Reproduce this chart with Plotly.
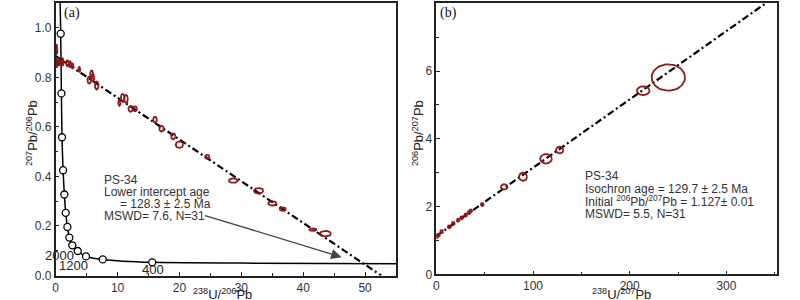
import numpy as np
import plotly.graph_objects as go

# ---------------- data: panel (a) Tera-Wasserburg ----------------
conc_x = [0.72, 0.81, 0.92, 1.02, 1.19, 1.40, 1.62, 1.89, 2.21, 2.69, 3.56, 4.90, 7.60, 15.6, 30.0, 55.0]
conc_y = [1.10, 0.976, 0.735, 0.558, 0.425, 0.327, 0.253, 0.196, 0.153, 0.122, 0.099, 0.077, 0.065, 0.053, 0.050, 0.0475]
conc_mark_x = [0.81, 0.92, 1.02, 1.19, 1.40, 1.62, 1.89, 2.21, 2.69, 3.56, 4.90, 7.60, 15.6]
conc_mark_y = [0.976, 0.735, 0.558, 0.425, 0.327, 0.253, 0.196, 0.153, 0.122, 0.099, 0.077, 0.065, 0.053]
age_labels = ["2000", "1200", "400"]
age_lab_x = [0.65, 2.9, 15.8]
age_lab_y = [0.081, 0.041, 0.023]

a_x = [0.16, 0.16, 0.53, 1.13, 1.88, 2.31, 2.69, 3.82, 5.43, 5.82, 5.98, 6.63, 10.29, 10.83,
       11.36, 12.1, 12.8, 16.05, 17.1, 19.0, 20.0, 24.5, 28.7, 32.8, 35.0, 36.7, 41.6, 43.6]
a_y = [0.913, 0.859, 0.862, 0.862, 0.857, 0.853, 0.846, 0.832, 0.789, 0.812, 0.799, 0.767, 0.697, 0.717,
       0.713, 0.673, 0.673, 0.629, 0.593, 0.562, 0.528, 0.479, 0.383, 0.342, 0.291, 0.268, 0.185, 0.169]
a_rx = [0.12, 0.12, 0.15, 0.15, 0.2, 0.2, 0.2, 0.15, 0.3, 0.25, 0.25, 0.3, 0.18, 0.3,
        0.3, 0.35, 0.35, 0.3, 0.35, 0.35, 0.6, 0.35, 0.7, 0.75, 0.65, 0.5, 0.6, 0.9]
a_ry = [0.018, 0.02, 0.014, 0.014, 0.012, 0.012, 0.01, 0.01, 0.014, 0.016, 0.014, 0.016, 0.012, 0.016,
        0.016, 0.012, 0.01, 0.012, 0.012, 0.012, 0.013, 0.008, 0.009, 0.011, 0.009, 0.007, 0.005, 0.011]
disc_x = [0.0, 52.6]
disc_y = [0.886, 0.0]

# ---------------- data: panel (b) isochron ----------------
b_x = [0.4, 2.1, 5.6, 13.4, 17.6, 22.8, 26.3, 30.4, 33.8, 35.5, 47.6, 70.3, 89.7, 113.4, 127.6, 214.0, 239.9]
b_y = [1.11, 1.16, 1.26, 1.40, 1.50, 1.60, 1.67, 1.75, 1.82, 1.87, 2.06, 2.58, 2.88, 3.41, 3.67, 5.42, 5.81]
b_rx = [1.5, 1.5, 1.5, 1.5, 1.5, 1.5, 1.5, 1.5, 1.5, 1.5, 1.5, 3.4, 4.1, 6.0, 3.8, 6.5, 17.2]
b_ry = [0.045, 0.045, 0.045, 0.045, 0.045, 0.045, 0.045, 0.045, 0.045, 0.045, 0.045, 0.08, 0.12, 0.14, 0.10, 0.13, 0.39]
iso_x = [0.0, 350.0]
iso_y = [1.127, 1.127 + 0.02018 * 350.0]

text_a = ["PS-34", "Lower intercept age", "= 128.3 ± 2.5 Ma", "MSWD= 7.6, N=31"]
text_a_x = [7.5, 7.5, 10.0, 7.5]
text_a_y = [0.386, 0.337, 0.288, 0.240]
text_b = ["PS-34", "Isochron age = 129.7 ± 2.5 Ma",
          "Initial <sup>206</sup>Pb/<sup>207</sup>Pb = 1.127± 0.01", "MSWD= 5.5, N=31"]
text_b_x = [151.7] * 4
text_b_y = [2.90, 2.53, 2.16, 1.78]

RED = "#8B1A1A"
FONT = "Liberation Sans, Arial, sans-serif"
W, H = 800, 300


def ellipses(xs, ys, rxs, rys, n=48):
    t = np.linspace(0, 2 * np.pi, n)
    ex, ey = [], []
    for cx, cy, rx, ry in zip(xs, ys, rxs, rys):
        ex += list(cx + rx * np.cos(t)) + [None]
        ey += list(cy + ry * np.sin(t)) + [None]
    return ex, ey


def px(x):
    return x / W


def py(y):
    return 1 - y / H


fig = go.Figure()

# panel (a)
fig.add_trace(go.Scatter(x=conc_x, y=conc_y, mode="lines",
                         line=dict(color="black", width=1.5, shape="spline", smoothing=0.6),
                         xaxis="x", yaxis="y", hoverinfo="skip"))
fig.add_trace(go.Scatter(x=conc_mark_x, y=conc_mark_y, mode="markers",
                         marker=dict(symbol="circle", size=7, color="white", line=dict(color="black", width=1.3)),
                         xaxis="x", yaxis="y"))
fig.add_trace(go.Scatter(x=disc_x, y=disc_y, mode="lines",
                         line=dict(color="black", width=2.2, dash="7px,3px,2px,3px"),
                         xaxis="x", yaxis="y"))
ex, ey = ellipses(a_x, a_y, a_rx, a_ry)
fig.add_trace(go.Scatter(x=ex, y=ey, mode="lines", line=dict(color=RED, width=1.8), xaxis="x", yaxis="y"))

# panel (b)
fig.add_trace(go.Scatter(x=iso_x, y=iso_y, mode="lines",
                         line=dict(color="black", width=2.2, dash="7px,3px,2px,3px"),
                         xaxis="x2", yaxis="y2"))
ex, ey = ellipses(b_x, b_y, b_rx, b_ry)
fig.add_trace(go.Scatter(x=ex, y=ey, mode="lines", line=dict(color=RED, width=1.8), xaxis="x2", yaxis="y2"))

axis_common = dict(showline=True, mirror=True, linecolor="#222", linewidth=1.5, ticks="inside",
                   ticklen=4, tickcolor="#222", showgrid=False, zeroline=False, automargin=False,
                   tickfont=dict(family=FONT, size=12, color="#333"))

fig.update_layout(
    width=W, height=H, margin=dict(l=0, r=0, t=0, b=0, pad=0, autoexpand=False), showlegend=False,
    plot_bgcolor="white", paper_bgcolor="white",
    xaxis=dict(domain=[px(55.7), px(396)], range=[0, 55], dtick=10, anchor="y",
               minor=dict(ticks="inside", dtick=5, ticklen=3, tickcolor="#222"), **axis_common),
    yaxis=dict(domain=[py(275.5), py(3)], range=[0, 1.1], dtick=0.2, tickformat=".1f", anchor="x",
               minor=dict(ticks="inside", dtick=0.1, ticklen=3, tickcolor="#222"), **axis_common),
    xaxis2=dict(domain=[px(436.3), px(776.7)], range=[0, 352], dtick=100, anchor="y2",
                minor=dict(ticks="inside", dtick=50, ticklen=3, tickcolor="#222"), **axis_common),
    yaxis2=dict(domain=[py(274.3), py(3.3)], range=[0, 8], dtick=2, anchor="x2",
                minor=dict(ticks="inside", dtick=1, ticklen=3, tickcolor="#222"), **axis_common),
)

ann = []
serif = dict(family="Liberation Serif, Times New Roman, serif", size=14, color="#111")
ann.append(dict(text="(a)", x=px(71.5), y=py(13), xref="paper", yref="paper", xanchor="center",
                yanchor="middle", showarrow=False, font=serif))
ann.append(dict(text="(b)", x=px(448.7), y=py(13), xref="paper", yref="paper", xanchor="center",
                yanchor="middle", showarrow=False, font=serif))
title_font = dict(family=FONT, size=13, color="#222")
ann.append(dict(text="<sup>238</sup>U/<sup>206</sup>Pb", x=px(222), y=py(294), xref="paper", yref="paper",
                xanchor="center", yanchor="middle", showarrow=False, font=title_font))
ann.append(dict(text="<sup>238</sup>U/<sup>207</sup>Pb", x=px(621.7), y=py(294), xref="paper", yref="paper",
                xanchor="center", yanchor="middle", showarrow=False, font=title_font))
ann.append(dict(text="<sup>207</sup>Pb/<sup>206</sup>Pb", x=px(32), y=py(133), xref="paper", yref="paper",
                xanchor="center", yanchor="middle", textangle=-90, showarrow=False, font=title_font))
ann.append(dict(text="<sup>206</sup>Pb/<sup>207</sup>Pb", x=px(418), y=py(133), xref="paper", yref="paper",
                xanchor="center", yanchor="middle", textangle=-90, showarrow=False, font=title_font))
for t, x, y in zip(age_labels, age_lab_x, age_lab_y):
    ann.append(dict(text=t, x=x, y=y, xref="x", yref="y", xanchor="center", yanchor="middle",
                    showarrow=False, font=dict(family=FONT, size=13, color="#222")))
for t, x, y in zip(text_a, text_a_x, text_a_y):
    ann.append(dict(text=t, x=x, y=y, xref="x", yref="y", xanchor="left", yanchor="middle", showarrow=False,
                    font=dict(family=FONT, size=12, color="#333")))
for t, x, y in zip(text_b, text_b_x, text_b_y):
    ann.append(dict(text=t, x=x, y=y, xref="x2", yref="y2", xanchor="left", yanchor="middle", showarrow=False,
                    font=dict(family=FONT, size=12, color="#333")))
ann.append(dict(x=46.2, y=0.074, ax=23.9, ay=0.244, xref="x", yref="y", axref="x", ayref="y", text="",
                showarrow=True, arrowhead=2, arrowsize=1.6, arrowwidth=1.3, arrowcolor="#444"))
fig.update_layout(annotations=ann)

fig.write_html("out.html", config={"displayModeBar": False},
               post_script="document.body.style.margin='0';document.body.style.overflow='hidden';")
